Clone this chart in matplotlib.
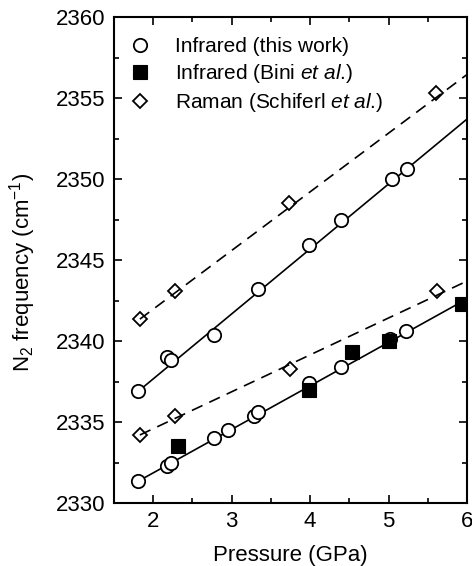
import matplotlib
matplotlib.use("Agg")
import matplotlib.pyplot as plt
from matplotlib.lines import Line2D
from matplotlib.ticker import MultipleLocator

plt.rcParams['font.family'] = ['Liberation Sans', 'DejaVu Sans']
plt.rcParams['mathtext.fontset'] = 'custom'
plt.rcParams['mathtext.rm'] = 'Liberation Sans'
plt.rcParams['mathtext.it'] = 'Liberation Sans:italic'

# Infrared (this work) - upper and lower branches
ir_hi_p = [1.81, 2.18, 2.23, 2.77, 3.33, 3.99, 4.40, 5.05, 5.23]
ir_hi_f = [2336.9, 2339.0, 2338.8, 2340.4, 2343.2, 2345.9, 2347.5, 2350.0, 2350.6]
ir_lo_p = [1.81, 2.18, 2.23, 2.77, 2.95, 3.28, 3.33, 3.99, 4.40, 5.02, 5.22]
ir_lo_f = [2331.35, 2332.3, 2332.5, 2334.0, 2334.5, 2335.4, 2335.6, 2337.4, 2338.4, 2340.1, 2340.6]

# Infrared (Bini et al.)
bini_p = [2.32, 3.99, 4.53, 5.00, 5.93]
bini_f = [2333.5, 2337.0, 2339.3, 2340.0, 2342.3]

# Raman (Schiferl et al.)
raman_hi_p = [1.83, 2.28, 3.73, 5.61]
raman_hi_f = [2341.35, 2343.1, 2348.5, 2355.3]
raman_lo_p = [1.83, 2.28, 3.74, 5.62]
raman_lo_f = [2334.2, 2335.4, 2338.3, 2343.1]

# Fit lines (end points)
ir_fit_p = [1.81, 6.0]
ir_hi_fit = [2336.9, 2353.7]
ir_lo_fit = [2331.35, 2342.6]
raman_fit_p = [1.83, 6.0]
raman_hi_fit = [2341.35, 2356.45]
raman_lo_fit = [2334.2, 2343.7]

labels = ["Infrared (this work)",
          r"Infrared (Bini $\mathit{et\ al}$.)",
          r"Raman (Schiferl $\mathit{et\ al}$.)"]

fig = plt.figure(figsize=(4.72, 5.66), dpi=100)
ax = fig.add_axes([114/472, 63/566, 353/472, 486/566])

lw = 1.2
ax.plot(ir_fit_p, ir_hi_fit, color='black', lw=lw, zorder=2)
ax.plot(ir_fit_p, ir_lo_fit, color='black', lw=lw, zorder=2)
ax.plot(raman_fit_p, raman_hi_fit, color='black', lw=lw, dashes=(7, 4.5), zorder=2)
ax.plot(raman_fit_p, raman_lo_fit, color='black', lw=lw, dashes=(7, 4.5), zorder=2)

circ = dict(marker='o', ms=9.6, mfc='white', mec='black', mew=1.3, ls='none', zorder=3)
sq = dict(marker='s', ms=9.4, mfc='black', mec='black', mew=0.8, ls='none', zorder=4)
dia = dict(marker='D', ms=7.6, mfc='none', mec='black', mew=1.3, ls='none', zorder=5)

ax.plot(ir_hi_p, ir_hi_f, **circ)
ax.plot(ir_lo_p, ir_lo_f, **circ)
ax.plot(bini_p, bini_f, **sq)
ax.plot(raman_hi_p, raman_hi_f, **dia)
ax.plot(raman_lo_p, raman_lo_f, **dia)

ax.set_xlim(1.5, 6.0)
ax.set_ylim(2330, 2360)
ax.xaxis.set_major_locator(MultipleLocator(1))
ax.xaxis.set_minor_locator(MultipleLocator(0.5))
ax.yaxis.set_major_locator(MultipleLocator(5))
ax.yaxis.set_minor_locator(MultipleLocator(2.5))
ax.tick_params(which='both', direction='in', top=True, right=True, width=1.2)
ax.tick_params(which='major', length=6, labelsize=16, pad=6)
ax.tick_params(which='minor', length=3.6)
for s in ax.spines.values():
    s.set_linewidth(1.5)

ax.set_xlabel("Pressure (GPa)", fontsize=16, labelpad=9)
ax.set_ylabel(r"N$_2$ frequency (cm$^{-1}$)", fontsize=16)
ax.yaxis.set_label_coords(-0.216, 0.475)

handles = [Line2D([], [], **circ), Line2D([], [], **sq), Line2D([], [], **dia)]
ax.legend(handles, labels, loc='upper left', bbox_to_anchor=(0.044, 0.959),
          frameon=False, fontsize=15, handlelength=1.0, handletextpad=1.2,
          labelspacing=0.3, borderpad=0, borderaxespad=0)

fig.savefig("out.png", dpi=100)
